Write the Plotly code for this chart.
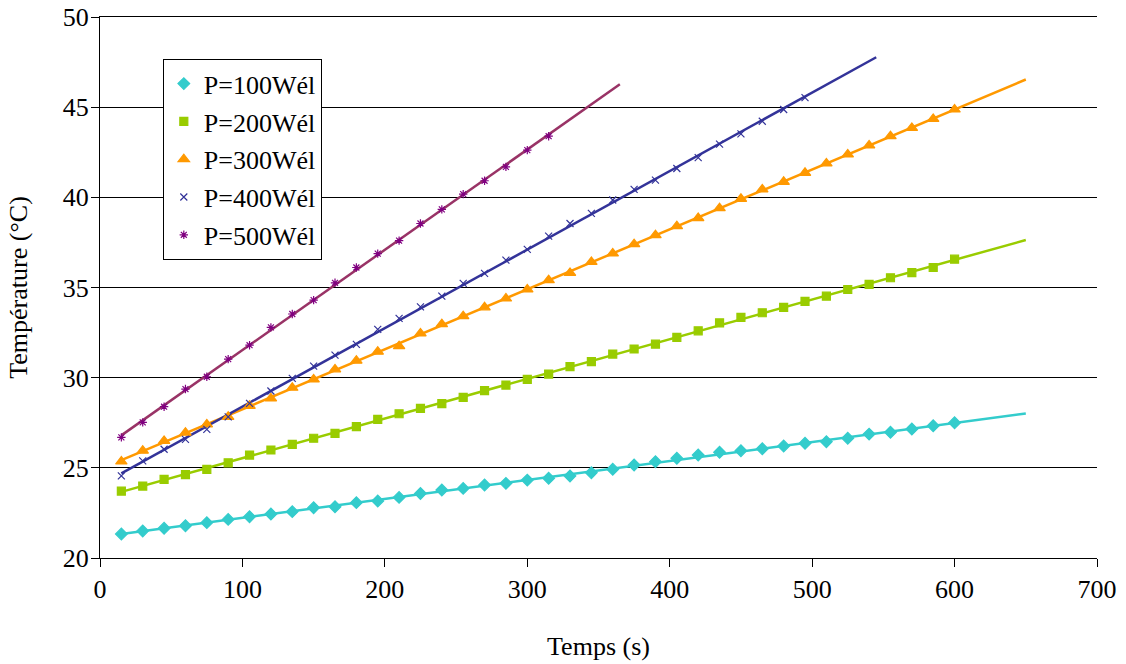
import numpy as np
import plotly.graph_objects as go

# Données : temps (s) et température (°C)
t_100 = list(range(15, 601, 15))
T_100 = [21.33, 21.5, 21.65, 21.79, 21.96, 22.14, 22.29, 22.44, 22.57, 22.79,
         22.84, 23.07, 23.16, 23.36, 23.58, 23.77, 23.86, 24.05, 24.14, 24.32,
         24.42, 24.55, 24.73, 24.92, 25.16, 25.34, 25.53, 25.71, 25.86, 25.95,
         26.06, 26.21, 26.36, 26.45, 26.64, 26.87, 26.97, 27.15, 27.33, 27.5]

t_200 = list(range(15, 601, 15))
T_200 = [23.71, 23.99, 24.36, 24.62, 24.92, 25.28, 25.71, 25.99, 26.3, 26.64,
         26.91, 27.28, 27.69, 28.0, 28.3, 28.56, 28.91, 29.28, 29.59, 29.91,
         30.2, 30.61, 30.89, 31.31, 31.59, 31.86, 32.23, 32.6, 33.04, 33.34,
         33.6, 33.9, 34.23, 34.52, 34.89, 35.17, 35.54, 35.83, 36.11, 36.57]

t_300 = list(range(15, 601, 15))
T_300 = [25.35, 25.95, 26.49, 26.95, 27.41, 27.83, 28.44, 28.85, 29.44, 29.9,
         30.46, 30.94, 31.44, 31.75, 32.45, 32.97, 33.41, 33.9, 34.39, 34.89,
         35.41, 35.81, 36.42, 36.89, 37.4, 37.9, 38.4, 38.85, 39.4, 39.92,
         40.44, 40.86, 41.36, 41.88, 42.38, 42.88, 43.39, 43.85, 44.35, 44.87]

t_400 = list(range(15, 496, 15))
T_400 = [24.55, 25.39, 26.03, 26.58, 27.13, 27.83, 28.57, 29.26, 29.96, 30.64,
         31.25, 31.85, 32.68, 33.29, 33.93, 34.52, 35.23, 35.78, 36.52, 37.11,
         37.85, 38.55, 39.11, 39.85, 40.44, 40.95, 41.6, 42.2, 42.95, 43.52,
         44.22, 44.87, 45.53]

t_500 = list(range(15, 316, 15))
T_500 = [26.69, 27.52, 28.39, 29.37, 30.05, 31.03, 31.8, 32.79, 33.53, 34.3,
         35.26, 36.11, 36.88, 37.6, 38.55, 39.33, 40.18, 40.92, 41.69, 42.62,
         43.39]

series = [
    ("P=100Wél", t_100, T_100, "#33CCCC", "#33CCCC", "diamond", 9),
    ("P=200Wél", t_200, T_200, "#99CC00", "#99CC00", "square", 8),
    ("P=300Wél", t_300, T_300, "#FF9900", "#FF9900", "triangle-up", 10),
    ("P=400Wél", t_400, T_400, "#333399", "#333399", "x-thin-open", 7),
    ("P=500Wél", t_500, T_500, "#800080", "#993366", "asterisk-open", 7),
]

forecast = 50  # courbe de tendance prolongée de 50 s

fig = go.Figure()

# Courbes de tendance linéaires
for name, t, T, mcol, lcol, sym, sz in series:
    a, b = np.polyfit(t, T, 1)
    xs = np.array([t[0], t[-1] + forecast])
    fig.add_trace(go.Scatter(
        x=xs, y=a * xs + b, mode="lines",
        line=dict(color=lcol, width=2.5),
        showlegend=False, hoverinfo="skip"
    ))

# Points de mesure
for name, t, T, mcol, lcol, sym, sz in series:
    fig.add_trace(go.Scatter(
        x=t, y=T, mode="markers", name=name, legendgroup=name,
        marker=dict(color=mcol, symbol=sym, size=sz,
                    line=dict(color=mcol, width=1.2))
    ))

font = "Liberation Serif, Times New Roman, serif"

fig.update_layout(
    width=1126, height=664,
    margin=dict(l=100, r=29, t=17, b=106, autoexpand=False),
    paper_bgcolor="white", plot_bgcolor="white",
    font=dict(family=font, size=25, color="black"),
    legend=dict(
        x=0.063, y=0.922, xanchor="left", yanchor="top",
        bordercolor="black", borderwidth=1, bgcolor="white",
        font=dict(family=font, size=26),
        tracegroupgap=1, itemsizing="trace", itemwidth=30
    ),
)

fig.update_xaxes(
    range=[0, 700], dtick=100, tick0=0,
    showgrid=False, zeroline=False,
    showline=True, linecolor="black", linewidth=1, mirror=True,
    ticks="outside", ticklen=8, tickcolor="black",
    tickfont=dict(family=font, size=26), ticklabeloverflow="allow",
    title=dict(text="Temps (s)", font=dict(family=font, size=26), standoff=33)
)
fig.update_yaxes(
    range=[20, 50], dtick=5, tick0=20,
    showgrid=True, gridcolor="black", gridwidth=1,
    zeroline=False,
    showline=True, linecolor="black", linewidth=1,
    ticks="outside", ticklen=8, tickcolor="black",
    tickfont=dict(family=font, size=26), ticklabelstandoff=-3,
    ticklabeloverflow="allow",
    title=dict(text="Température (°C)", font=dict(family=font, size=26), standoff=27)
)

# pas de marge de page autour du graphique, pas de barre d'outils
fig.write_html("out.html", config={"displayModeBar": False},
               post_script="document.body.style.margin = '0';")
